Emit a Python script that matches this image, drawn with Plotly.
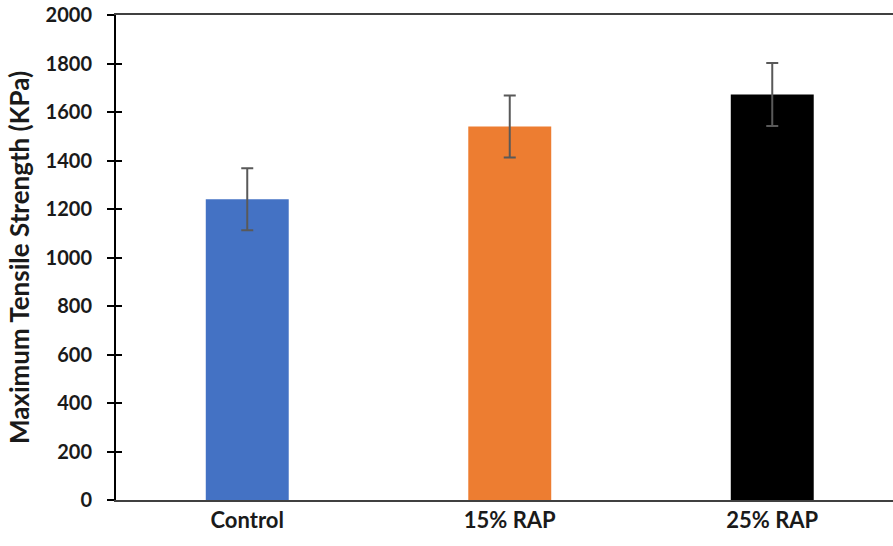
import plotly.graph_objects as go

categories = ["Control", "15% RAP", "25% RAP"]
strength = [1240, 1540, 1672]
errors = [128, 128, 130]
colors = ["#4472C4", "#ED7D31", "#000000"]
y_ticks = [0, 200, 400, 600, 800, 1000, 1200, 1400, 1600, 1800, 2000]

font_fam = "Lato, Open Sans, Liberation Sans, Arial, sans-serif"

fig = go.Figure()
fig.add_trace(go.Bar(
    x=categories, y=strength,
    marker=dict(color=colors, line=dict(width=0)),
    width=0.316,
    error_y=dict(type="data", array=errors, visible=True,
                 color="#595959", thickness=2, width=6),
    showlegend=False,
))
# invisible trace on the overlay axis (inside half of crossing ticks)
fig.add_trace(go.Scatter(x=categories, y=[None, None, None], yaxis="y2",
                         showlegend=False, hoverinfo="skip"))

fig.update_layout(
    width=893, height=546,
    margin=dict(l=116, r=0, t=15, b=46, autoexpand=False),
    paper_bgcolor="white", plot_bgcolor="white",
    font=dict(family=font_fam, color="#1a1a1a"),
    xaxis=dict(
        range=[-0.5, 2.46], automargin=False,
        showline=True, linecolor="#404040", linewidth=2, mirror=True,
        ticks="", showgrid=False, zeroline=False,
        tickfont=dict(size=22, family=font_fam, weight="bold"),
    ),
    yaxis=dict(
        range=[0, 2000], tickvals=y_ticks, automargin=False,
        showline=True, linecolor="black", linewidth=2, mirror=False,
        ticks="outside", ticklen=7, tickwidth=2, tickcolor="black",
        ticklabelstandoff=11,
        showgrid=False, zeroline=False,
        tickfont=dict(size=20, family=font_fam, weight="bold"),
        title=dict(text="Maximum Tensile Strength (KPa)",
                   font=dict(size=26, family=font_fam, weight="bold"),
                   standoff=8),
    ),
    yaxis2=dict(
        range=[0, 2000], tickvals=y_ticks, overlaying="y", side="left",
        anchor="x", automargin=False, showline=False, showticklabels=False,
        ticks="inside", ticklen=6, tickwidth=2, tickcolor="black",
        showgrid=False, zeroline=False,
    ),
)

fig.write_html("out.html", config={"displayModeBar": False})
